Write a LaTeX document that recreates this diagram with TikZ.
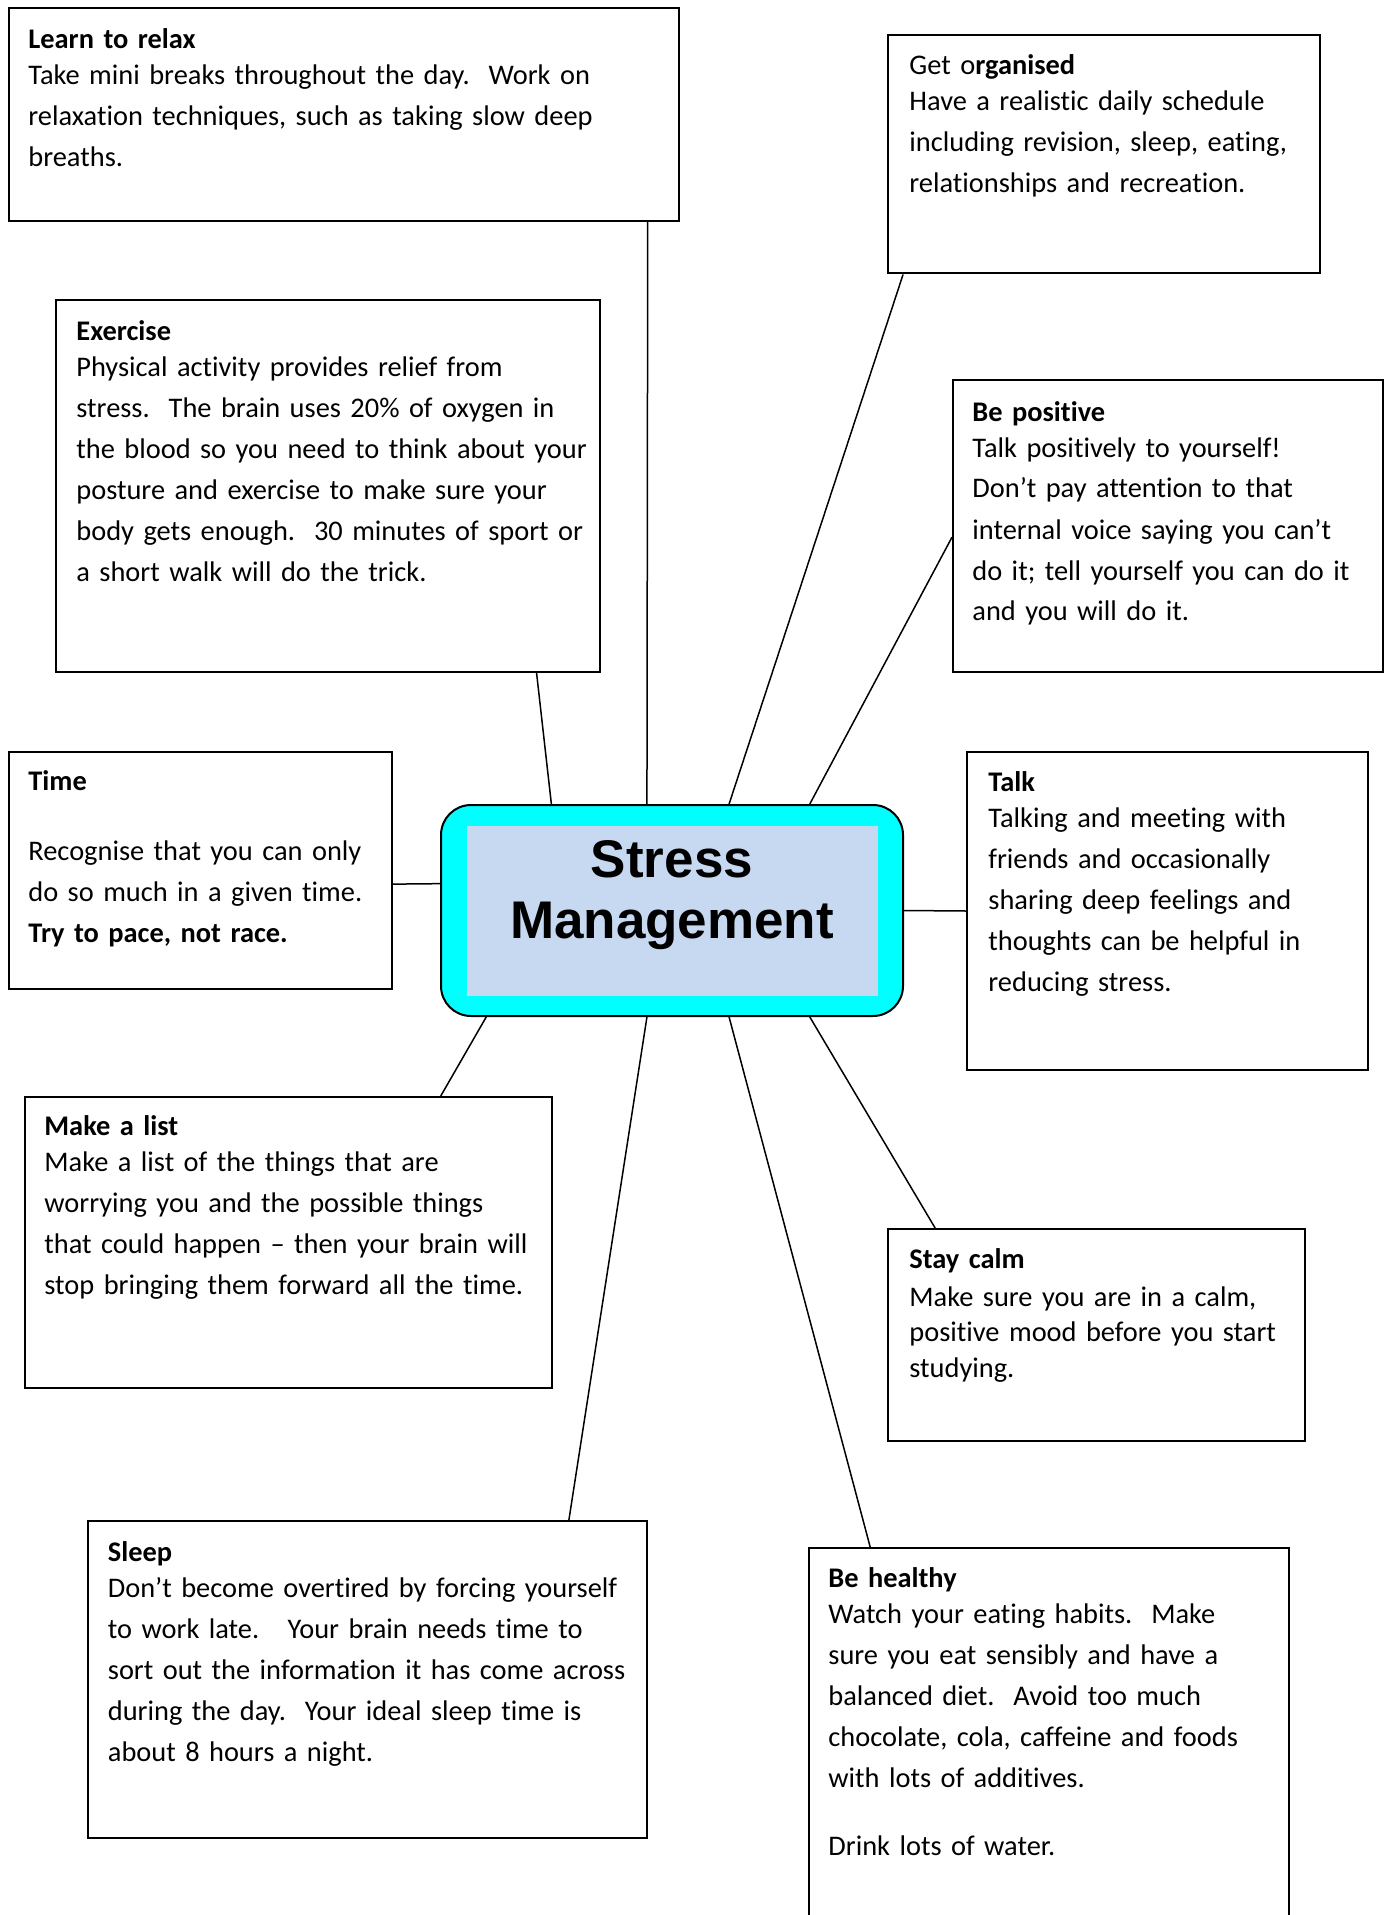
\documentclass[tikz,border=0pt]{standalone}
\usepackage{fontspec}
\setmainfont{Carlito}[Ligatures=NoCommon]
\newfontfamily\headfont{Liberation Sans}
\usetikzlibrary{calc,fit}

\definecolor{hubcyan}{HTML}{00FFFF}
\definecolor{hubfill}{HTML}{C6D9F0}

\tikzset{
  panel/.style={draw=black, line width=1pt, fill=white, inner sep=0pt},
  note/.style={anchor=base west, inner sep=0pt, align=left, text width=320pt,
               font=\fontsize{14.2}{20.5}\selectfont},
  link/.style={draw=black, line width=0.75pt},
}

\begin{document}
\begin{tikzpicture}[x=0.5pt,y=-0.5pt]
\useasboundingbox (0,0) rectangle (1384,1915);
\clip (0,0) rectangle (1384,1915);

% ---- outer panels ----
\node[panel, fit={(8.5,8.5) (679,221)}] (relax) {};
\node[panel, fit={(888,35.5) (1320,273.5)}] (organised) {};
\node[panel, fit={(56,300.5) (600,672)}] (exercise) {};
\node[panel, fit={(953,380) (1383,672)}] (positive) {};
\node[panel, fit={(8.5,752) (392,989)}] (time) {};
\node[panel, fit={(967,752) (1368,1070)}] (talk) {};
\node[panel, fit={(24.5,1097) (552,1388)}] (list) {};
\node[panel, fit={(888,1229) (1304.5,1441)}] (calm) {};
\node[panel, fit={(88,1521) (647,1838)}] (sleep) {};
\node[panel, fit={(809,1548) (1289,1940)}] (healthy) {};

% ---- central hub ----
\node[draw=black, line width=1pt, fill=hubcyan, rounded corners=15pt, inner sep=0pt,
      fit={(441,805) (903,1016)}] (hub) {};
\node[fill=hubfill, inner sep=0pt, fit={(467,826) (878,995.5)}] (hubin) {};
\node[anchor=base, align=center, inner sep=0pt,
      font=\headfont\bfseries\fontsize{26.5}{30.5}\selectfont] (title) at (672,938)
  {Stress\\Management};

% ---- connectors ----
\draw[link] ($(relax.south west)!0.952!(relax.south east)$) -- ($(hub.north west)!0.446!(hub.north east)$);
\draw[link] ($(organised.south west)!0.037!(organised.south east)$) -- ($(hub.north west)!0.623!(hub.north east)$);
\draw[link] ($(exercise.south west)!0.882!(exercise.south east)$) -- ($(hub.north west)!0.240!(hub.north east)$);
\draw[link] ($(positive.north west)!0.538!(positive.south west)$) -- ($(hub.north west)!0.797!(hub.north east)$);
\draw[link] ($(time.north east)!0.557!(time.south east)$) -- ($(hub.north west)!0.374!(hub.south west)$);
\draw[link] (hub.east) -- (talk.west);
\draw[link] ($(list.north west)!0.788!(list.north east)$) -- ($(hub.south west)!0.0996!(hub.south east)$);
\draw[link] ($(sleep.north west)!0.859!(sleep.north east)$) -- ($(hub.south west)!0.446!(hub.south east)$);
\draw[link] ($(healthy.north west)!0.129!(healthy.north east)$) -- ($(hub.south west)!0.623!(hub.south east)$);
\draw[link] ($(calm.north west)!0.115!(calm.north east)$) -- ($(hub.south west)!0.797!(hub.south east)$);

% ---- panel texts ----
\node[note] (relax-t) at (28,48.5) {\textbf{Learn to relax}\\[-2.5pt]
Take mini breaks throughout the day.\ \ Work on\\
relaxation techniques, such as taking slow deep\\
breaths.};

\node[note] (organised-t) at (909,75) {Get o\textbf{rganised}\\[-2.5pt]
Have a realistic daily schedule\\
including revision, sleep, eating,\\
relationships and recreation.};

\node[note] (exercise-t) at (76,340.5) {\textbf{Exercise}\\[-2.5pt]
Physical activity provides relief from\\
stress.\ \ The brain uses 20\% of oxygen in\\
the blood so you need to think about your\\
posture and exercise to make sure your\\
body gets enough.\ \ 30 minutes of sport or\\
a short walk will do the trick.};

\node[note] (positive-t) at (972,421) {\textbf{Be positive}\\[-2.5pt]
Talk positively to yourself!\\
Don’t pay attention to that\\
internal voice saying you can’t\\
do it; tell yourself you can do it\\
and you will do it.};

\node[note] (time-t) at (28,790.5) {\textbf{Time}\\[14.3pt]
Recognise that you can only\\
do so much in a given time.\\
\textbf{Try to pace, not race.}};

\node[note] (talk-t) at (988,791) {\textbf{Talk}\\[-2.5pt]
Talking and meeting with\\
friends and occasionally\\
sharing deep feelings and\\
thoughts can be helpful in\\
reducing stress.};

\node[note] (list-t) at (44,1135.5) {\textbf{Make a list}\\[-2.5pt]
Make a list of the things that are\\
worrying you and the possible things\\
that could happen – then your brain will\\
stop bringing them forward all the time.};

\node[note, font=\fontsize{14.2}{17.7}\selectfont] (calm-t) at (909,1268.5) {\textbf{Stay calm}\\[1.2pt]
Make sure you are in a calm,\\
positive mood before you start\\
studying.};

\node[note] (sleep-t) at (107.5,1561) {\textbf{Sleep}\\[-2.5pt]
Don’t become overtired by forcing yourself\\
to work late.\ \ \ Your brain needs time to\\
sort out the information it has come across\\
during the day.\ \ Your ideal sleep time is\\
about 8 hours a night.};

\node[note] (healthy-t) at (828,1587.5) {\textbf{Be healthy}\\[-2.5pt]
Watch your eating habits.\ \ Make\\
sure you eat sensibly and have a\\
balanced diet.\ \ Avoid too much\\
chocolate, cola, caffeine and foods\\
with lots of additives.\\[13.7pt]
Drink lots of water.};

\end{tikzpicture}
\end{document}
